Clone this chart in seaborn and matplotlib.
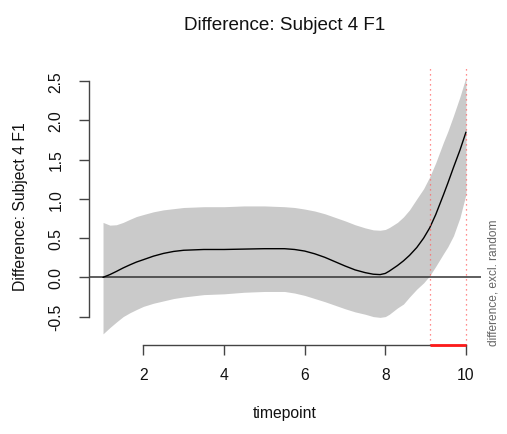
import numpy as np
import pandas as pd
import matplotlib
matplotlib.use("Agg")
import matplotlib.pyplot as plt
import seaborn as sns

# ---- data ----
timepoint = [1.0, 1.17, 1.33, 1.5, 1.67, 1.83, 2.0, 2.25, 2.5, 2.75, 3.0, 3.5, 4.0, 4.5,
             5.0, 5.5, 5.75, 6.0, 6.25, 6.5, 6.75, 7.0, 7.25, 7.5, 7.7, 7.87, 8.0, 8.1,
             8.3, 8.45, 8.6, 8.78, 8.95, 9.1, 9.25, 9.44, 9.55, 9.69, 9.85, 10.0]
est = [0.00, 0.035, 0.075, 0.12, 0.16, 0.195, 0.225, 0.27, 0.305, 0.33, 0.345, 0.355, 0.355, 0.36,
       0.365, 0.365, 0.355, 0.335, 0.30, 0.255, 0.20, 0.145, 0.095, 0.06, 0.04, 0.035, 0.05, 0.08,
       0.15, 0.21, 0.28, 0.38, 0.50, 0.63, 0.80, 1.05, 1.20, 1.40, 1.62, 1.85]
upper = [0.70, 0.665, 0.67, 0.70, 0.74, 0.775, 0.80, 0.835, 0.86, 0.875, 0.89, 0.90, 0.90, 0.91,
         0.91, 0.90, 0.89, 0.87, 0.845, 0.81, 0.765, 0.72, 0.67, 0.63, 0.605, 0.60, 0.61, 0.635,
         0.70, 0.77, 0.86, 1.00, 1.13, 1.28, 1.46, 1.72, 1.86, 2.06, 2.30, 2.55]
lower = [-0.72, -0.64, -0.57, -0.50, -0.45, -0.41, -0.37, -0.33, -0.30, -0.27, -0.25, -0.22, -0.21, -0.19,
         -0.18, -0.18, -0.20, -0.23, -0.27, -0.31, -0.355, -0.40, -0.44, -0.47, -0.50, -0.51, -0.50, -0.47,
         -0.39, -0.34, -0.25, -0.15, -0.07, 0.02, 0.14, 0.30, 0.39, 0.53, 0.76, 1.06]
sig_start, sig_end = 9.10, 10.0
yticks = [-0.5, 0.0, 0.5, 1.0, 1.5, 2.0, 2.5]
xticks = [2, 4, 6, 8, 10]
title = "Difference: Subject 4 F1"
xlabel = "timepoint"
ylabel = "Difference: Subject 4 F1"
side_note = "difference, excl. random"

df = pd.DataFrame({"timepoint": timepoint, "est": est, "upper": upper, "lower": lower})

sns.set_style("white")
plt.rcParams["font.family"] = ["Liberation Sans", "DejaVu Sans"]

W, H = 507, 435
fig = plt.figure(figsize=(W / 100, H / 100), dpi=100)
left, right, top, bottom = 88.5, 480.5, 68, 346
ax = fig.add_axes([left / W, 1 - bottom / H, (right - left) / W, (bottom - top) / H])

ax.fill_between(df["timepoint"], df["lower"], df["upper"], color="#cacaca", linewidth=0)
ax.axhline(0, color="#333333", lw=1.1)
sns.lineplot(data=df, x="timepoint", y="est", ax=ax, color="black", lw=1.0)

ax.set_xlim(0.64, 10.36)
ax.set_ylim(-0.862, 2.68)

for xv in (sig_start, sig_end):
    ax.axvline(xv, color="#ff6666", lw=0.9, ls=(0, (1, 3)))
ax.plot([sig_start, sig_end], [-0.862, -0.862], color="#ff1a1a", lw=2.0,
        solid_capstyle="butt", clip_on=False, zorder=5)

for s in ("top", "right"):
    ax.spines[s].set_visible(False)
for s in ("left", "bottom"):
    ax.spines[s].set_color("#444444")
    ax.spines[s].set_linewidth(1.0)
ax.spines["left"].set_bounds(-0.5, 2.5)
ax.spines["bottom"].set_bounds(2, 10)

ax.set_xticks(xticks)
ax.set_xticklabels([str(v) for v in xticks])
ax.set_yticks(yticks)
ax.set_yticklabels([f"{v:.1f}" for v in yticks], rotation=90, va="center")
ax.tick_params(axis="both", which="major", bottom=True, left=True, direction="out",
               length=7, width=1.0, color="#444444", labelsize=11.3, labelcolor="#111111")
ax.tick_params(axis="x", pad=9)
ax.tick_params(axis="y", pad=11)
ax.set_xlabel("")
ax.set_ylabel("")

fig.text(284.5 / W, 1 - 26 / H, title, ha="center", va="center", fontsize=13.6, color="#111111")
fig.text(284.5 / W, 1 - 414 / H, xlabel, ha="center", va="center", fontsize=11.3, color="#111111")
fig.text(21 / W, 1 - 207 / H, ylabel, ha="center", va="center", rotation=90, fontsize=11.3, color="#111111")
fig.text(494 / W, 1 - 346 / H, side_note, ha="center", va="bottom", rotation=90, fontsize=8.6, color="#666666")

fig.savefig("out.png", dpi=100, facecolor="white")
